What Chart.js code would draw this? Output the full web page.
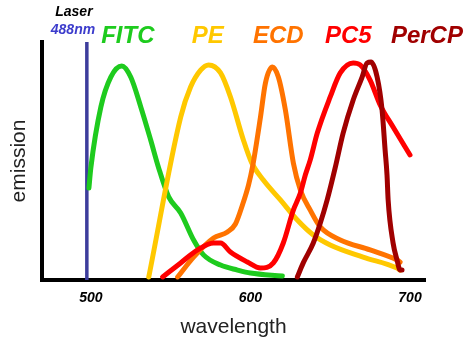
<!DOCTYPE html>
<html>
<head>
<meta charset="utf-8">
<script src="https://cdn.jsdelivr.net/npm/chart.js@4.4.1/dist/chart.umd.min.js"></script>
<style>
  html, body { margin: 0; padding: 0; background: #fff; }
  canvas { display: block; }
</style>
</head>
<body>
<canvas id="spectra" width="473" height="350"></canvas>
<script>
// emission spectra (wavelength in nm, emission 0..1)
const wavelengthTicks = [500, 600, 700];
const laserNm = 497.5;

const fitcNm = [498.8, 500, 506.3, 512.5, 519.4, 525, 531.3, 537.5, 542.5, 548.8, 556.3, 564.4, 570.6, 581.3, 591.9, 600, 620];
const fitcEm = [0.425, 0.518, 0.800, 0.938, 0.989, 0.938, 0.800, 0.647, 0.518, 0.384, 0.310, 0.185, 0.116, 0.069, 0.046, 0.032, 0.018];

const peNm = [536.3, 556.3, 562.5, 568.8, 573.8, 581.3, 587.5, 595.6, 600.6, 608.1, 618.8, 629.4, 639.4, 650, 670.6, 691.9, 693.8];
const peEm = [0.014, 0.753, 0.892, 0.970, 0.994, 0.957, 0.846, 0.647, 0.545, 0.462, 0.370, 0.277, 0.208, 0.162, 0.106, 0.055, 0.046];

const ecdNm = [554.4, 564.4, 576.9, 585.6, 590.6, 595, 598.8, 601.3, 606.3, 609.4, 613.8, 617.5, 621.9, 626.9, 631.3, 637.5, 643.8, 656.3, 675, 691.9, 693.8];
const ecdEm = [0.014, 0.106, 0.194, 0.222, 0.259, 0.347, 0.439, 0.522, 0.753, 0.910, 0.984, 0.938, 0.786, 0.541, 0.416, 0.323, 0.245, 0.185, 0.139, 0.092, 0.083];

const pc5Nm = [545, 556.3, 566.9, 576.9, 581.3, 587.5, 598.1, 606.3, 614.4, 620.6, 626.9, 631.3, 634.4, 637.5, 641.9, 650, 656.3, 664.4, 668.8, 675, 681.3, 689.4, 700];
const pc5Em = [0.014, 0.079, 0.139, 0.171, 0.171, 0.129, 0.083, 0.055, 0.079, 0.171, 0.323, 0.402, 0.485, 0.555, 0.679, 0.846, 0.957, 1.003, 0.994, 0.924, 0.809, 0.707, 0.578];

const percpNm = [629.4, 633.1, 639.4, 643.8, 648.1, 653.1, 658.1, 664.4, 670, 673.1, 675.6, 679.4, 682.5, 684.4, 685.6, 686.3, 689.4, 691.9, 693.8, 695];
const percpEm = [0.014, 0.079, 0.171, 0.263, 0.370, 0.518, 0.679, 0.832, 0.938, 1.003, 1.007, 0.938, 0.786, 0.601, 0.485, 0.370, 0.171, 0.092, 0.046, 0.046];

const dyeNames = ['FITC', 'PE', 'ECD', 'PC5', 'PerCP'];
const dyeColors = ['#1ecb1e', '#ffc800', '#ff7300', '#ff0000', '#a00000'];

const pts = (xs, ys) => xs.map((x, i) => ({ x, y: ys[i] }));
const FONT = '"Liberation Sans", Arial, sans-serif';

const curve = (label, data, color) => ({
    label, data,
    borderColor: color,
    borderWidth: 5,
    borderCapStyle: 'round',
    borderJoinStyle: 'round',
    pointRadius: 0,
    cubicInterpolationMode: 'monotone',
    fill: false,
});

// dye names and the laser caption, placed in data units
const tagPlugin = {
    id: 'tags',
    afterDraw(chart) {
        const { ctx, scales: { x, y } } = chart;
        const put = (text, nm, em, color, font) => {
            ctx.save();
            ctx.font = font;
            ctx.fillStyle = color;
            ctx.textAlign = 'center';
            ctx.textBaseline = 'middle';
            ctx.fillText(text, x.getPixelForValue(nm), y.getPixelForValue(em));
            ctx.restore();
        };
        const big = 'italic bold 24px ' + FONT;
        const at = [523.2, 573.2, 617.5, 661.3, 710.6];
        dyeNames.forEach((n, i) => put(n, at[i], 1.128, dyeColors[i], big));
        put('Laser', 489.4, 1.238, '#000', 'italic bold 14px ' + FONT);
        put('488nm', 488.8, 1.155, '#3c3ccc', 'italic bold 14px ' + FONT);
    }
};

new Chart(document.getElementById('spectra'), {
    type: 'line',
    data: {
        datasets: [
            curve('PerCP', pts(percpNm, percpEm), dyeColors[4]),
            curve('PC5', pts(pc5Nm, pc5Em), dyeColors[3]),
            curve('ECD', pts(ecdNm, ecdEm), dyeColors[2]),
            curve('PE', pts(peNm, peEm), dyeColors[1]),
            curve('FITC', pts(fitcNm, fitcEm), dyeColors[0]),
            {
                label: 'Laser',
                data: [{ x: laserNm, y: 0 }, { x: laserNm, y: 1.1 }],
                borderColor: '#3d3d9c',
                borderWidth: 3.5,
                pointRadius: 0,
                tension: 0,
            },
        ],
    },
    options: {
        responsive: false,
        animation: false,
        devicePixelRatio: 1,
        layout: { padding: { top: 42, right: 48, left: 0, bottom: 0 } },
        plugins: { legend: { display: false }, tooltip: { enabled: false } },
        scales: {
            x: {
                type: 'linear',
                min: 469.4,
                max: 709.4,
                grid: { display: false, drawTicks: false },
                border: { display: true, color: '#000', width: 4 },
                afterBuildTicks: (s) => { s.ticks = wavelengthTicks.map((v) => ({ value: v })); },
                afterFit: (s) => { s.height = 70; },
                ticks: {
                    color: '#000',
                    padding: 10,
                    font: { family: FONT, size: 14, style: 'italic', weight: 'bold' },
                },
                title: {
                    display: true,
                    text: 'wavelength',
                    color: '#222',
                    padding: { top: 0, bottom: 10 },
                    font: { family: FONT, size: 21 },
                },
            },
            y: {
                min: 0,
                max: 1.1,
                grid: { display: false, drawTicks: false },
                border: { display: true, color: '#000', width: 4 },
                ticks: { display: false },
                afterFit: (s) => { s.width = 42; },
                title: {
                    display: true,
                    text: 'emission',
                    color: '#222',
                    padding: { top: 7, bottom: 0 },
                    font: { family: FONT, size: 21 },
                },
            },
        },
    },
    plugins: [tagPlugin],
});
</script>
</body>
</html>
